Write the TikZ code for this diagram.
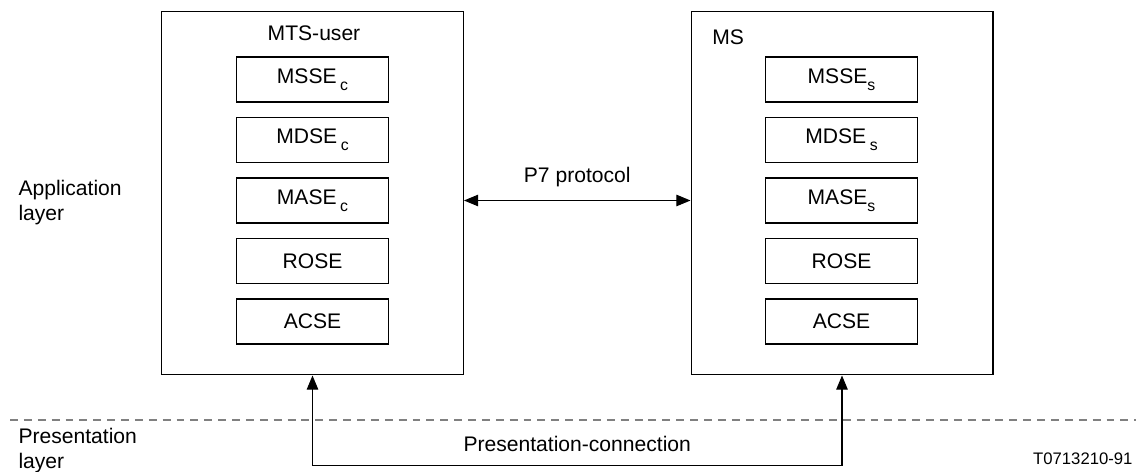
\documentclass[tikz,border=0pt]{standalone}
\usepackage{fontspec}
\setmainfont{Liberation Sans}
\usetikzlibrary{arrows.meta}
\newcommand{\lowsub}[1]{\raisebox{-0.6ex}{\small #1}}

\begin{document}
\begin{tikzpicture}[x=0.02cm,y=-0.02cm,line width=0.6pt,
  font=\fontsize{12}{14}\selectfont,
  sysbox/.style={draw,minimum width=6.04cm,minimum height=7.28cm},
  entbox/.style={draw,minimum width=3.04cm,minimum height=0.9cm},
  layertext/.style={align=left,anchor=north west,inner sep=0pt},
  twotips/.style={{Triangle[length=8pt,width=6.5pt]}-{Triangle[length=8pt,width=6.5pt]}}]
\useasboundingbox (0,0) rectangle (1136,472);
\node [sysbox] (mtsuser) at (312.5,193) {};
\node [sysbox] (ms) at (842,193) {};
\node (mtsuser-title) at (314,33) {MTS-user};
\node [anchor=west] (ms-title) at (706,37) {MS};
  \foreach \nm/\lbll/\lblr [count=\i from 0] in {msse/MSSE\,\lowsub{c}/MSSE\lowsub{s},
    mdse/MDSE\,\lowsub{c}/MDSE\,\lowsub{s},mase/MASE\,\lowsub{c}/MASE\lowsub{s},
    rose/ROSE/ROSE,acse/ACSE/ACSE}
  {  \node [entbox] (\nm-l) at (312.5,79.5+60.5*\i) {\lbll};
     \node [entbox] (\nm-r) at (841.5,79.5+60.5*\i) {\lblr};}
\draw [twotips] (mtsuser.east |- mase-l) -- node [above=4pt] (p7) {P7 protocol} (ms.west |- mase-r);
\coordinate (dash-w) at (10,420);
\coordinate (dash-e) at (1136,420);
\draw [black!50,dash pattern=on 4.5pt off 3.4pt] (dash-w) -- (dash-e);
\draw [twotips] (mtsuser.south) -- ++(0,90) -| node [pos=0.25,above=4pt] (pconn) {Presentation-connection} (ms.south);
\node [layertext] (applayer) at (18,180) {Application\\layer};
\node [layertext] (preslayer) at (18,428) {Presentation\\layer};
\node [anchor=base east,inner sep=0pt,font=\fontsize{9.5}{11}\selectfont] (figid) at (1133,465) {T0713210-91};
\end{tikzpicture}
\end{document}
